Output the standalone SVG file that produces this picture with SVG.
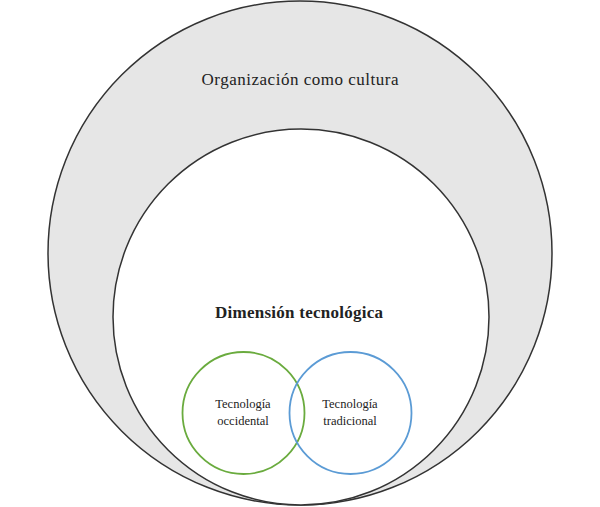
<svg xmlns="http://www.w3.org/2000/svg" width="600" height="507" viewBox="0 0 600 507">
<style>
.big{fill:#e6e6e6;stroke:#333;stroke-width:1.5}
.mid{fill:#fff;stroke:#333;stroke-width:1.5}
.t{font-family:"Liberation Serif","Times New Roman",serif;fill:#222;text-anchor:middle}
.h{font-size:17px}
.hb{font-size:17px;font-weight:bold}
.s{font-size:12.5px}
</style>
<rect width="600" height="507" fill="#fff"/>
<g id="organizacion">
<circle class="big" cx="300" cy="253" r="252"/>
<text class="t h" x="300" y="85" textLength="197" lengthAdjust="spacing">Organización como cultura</text>
</g>
<g id="dimension">
<circle class="mid" cx="301" cy="317" r="188"/>
<text class="t hb" x="299" y="318" textLength="168" lengthAdjust="spacing">Dimensión tecnológica</text>
</g>
<g id="occidental">
<circle cx="243.5" cy="413" r="61" fill="none" stroke="#6aab3e" stroke-width="1.8"/>
<text class="t s" x="243" y="408">Tecnología</text>
<text class="t s" x="243" y="425">occidental</text>
</g>
<g id="tradicional">
<circle cx="350.5" cy="413" r="61" fill="none" stroke="#5b9bd5" stroke-width="1.8"/>
<text class="t s" x="350" y="408">Tecnología</text>
<text class="t s" x="350" y="425">tradicional</text>
</g>
<g id="connectors"/>
</svg>
